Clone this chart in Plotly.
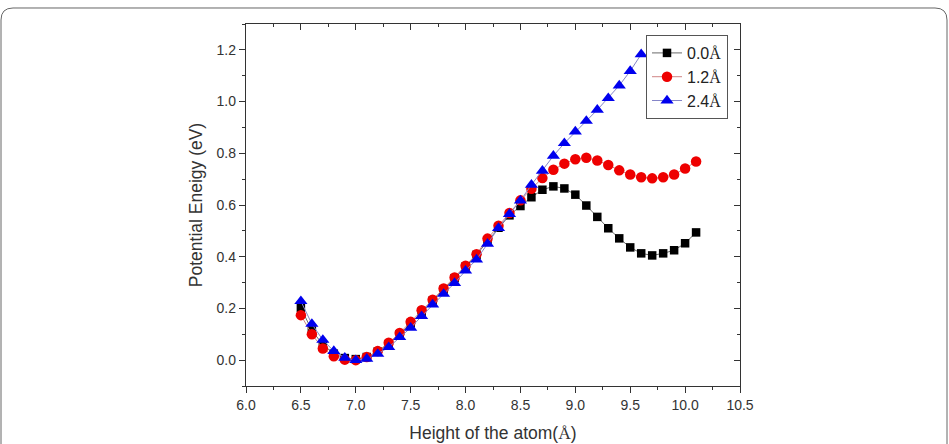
import plotly.graph_objects as go

# ---------------- data ----------------
x_all = [6.5, 6.6, 6.7, 6.8, 6.9, 7.0, 7.1, 7.2, 7.3, 7.4, 7.5, 7.6, 7.7, 7.8, 7.9,
         8.0, 8.1, 8.2, 8.3, 8.4, 8.5, 8.6, 8.7, 8.8, 8.9, 9.0, 9.1, 9.2, 9.3, 9.4,
         9.5, 9.6, 9.7, 9.8, 9.9, 10.0, 10.1]

e_00 = [0.202, 0.115, 0.060, 0.025, 0.008, 0.004, 0.012, 0.033, 0.062, 0.100,
        0.142, 0.187, 0.230, 0.273, 0.317, 0.362, 0.407, 0.460, 0.512, 0.560,
        0.596, 0.630, 0.659, 0.672, 0.664, 0.640, 0.598, 0.554, 0.510, 0.471,
        0.436, 0.413, 0.405, 0.413, 0.425, 0.452, 0.494]

e_12 = [0.174, 0.100, 0.045, 0.015, 0.002, 0.000, 0.012, 0.035, 0.067, 0.105,
        0.148, 0.193, 0.234, 0.277, 0.320, 0.365, 0.410, 0.470, 0.520, 0.569,
        0.618, 0.663, 0.704, 0.736, 0.760, 0.777, 0.783, 0.772, 0.755, 0.734,
        0.718, 0.707, 0.703, 0.707, 0.718, 0.741, 0.768]

x_24 = x_all[:32]
e_24 = [0.228, 0.140, 0.078, 0.035, 0.009, 0.000, 0.005, 0.024, 0.050, 0.089,
        0.125, 0.170, 0.215, 0.256, 0.298, 0.346, 0.389, 0.450, 0.511, 0.565,
        0.617, 0.678, 0.732, 0.790, 0.839, 0.884, 0.925, 0.968, 1.013, 1.062,
        1.118, 1.183]

names = ["0.0", "1.2", "2.4"]
x_range = [6.0, 10.5]
y_range = [-0.1, 1.3]

ANG = '<span style="font-family:\'Liberation Serif\', serif">Å</span>'
FONT = "Liberation Sans, Arial, sans-serif"

fig = go.Figure()
fig.add_trace(go.Scatter(x=x_all, y=e_00, mode="lines+markers", name=names[0] + ANG,
                         line=dict(color="#6a6a6a", width=1),
                         marker=dict(symbol="square", size=8.5, color="black")))
fig.add_trace(go.Scatter(x=x_all, y=e_12, mode="lines+markers", name=names[1] + ANG,
                         line=dict(color="#d08585", width=1),
                         marker=dict(symbol="circle", size=10.5, color="#ee0000")))
fig.add_trace(go.Scatter(x=x_24, y=e_24, mode="lines+markers", name=names[2] + ANG,
                         line=dict(color="#8585c8", width=1),
                         marker=dict(symbol="triangle-up", size=11.5, color="#0000ee")))
# dummy trace to make the mirrored (top/right) axes exist
fig.add_trace(go.Scatter(x=[None], y=[None], xaxis="x2", yaxis="y2",
                         showlegend=False, hoverinfo="skip"))

W, H = 949, 444
L, R, T, B = 246, 740, 24, 385.7

def px(xp):
    return (xp - L) / (R - L)

def py(yp):
    return (B - yp) / (B - T)

# rounded frame of the figure image
r = 12
frame = (f"M {px(1)} {py(444)} L {px(1)} {py(8 + r)} "
         f"Q {px(1)} {py(8)} {px(1 + r)} {py(8)} "
         f"L {px(W - 2 - r)} {py(8)} "
         f"Q {px(W - 2)} {py(8)} {px(W - 2)} {py(8 + r)} "
         f"L {px(W - 2)} {py(444)}")

axis_common = dict(showline=True, linecolor="#333", linewidth=1.3,
                   showgrid=False, zeroline=False, ticklen=6, tickwidth=1.2,
                   tickcolor="#333", automargin=False)

fig.update_layout(
    width=W, height=H,
    margin=dict(l=L, r=W - R, t=T, b=H - B),
    paper_bgcolor="white", plot_bgcolor="white",
    font=dict(family=FONT, color="#333"),
    showlegend=True,
    legend=dict(x=px(646), y=py(35), xanchor="left", yanchor="top",
                bordercolor="#555", borderwidth=1, bgcolor="white",
                font=dict(size=16, color="#222", family=FONT),
                tracegroupgap=0, itemwidth=30),
    xaxis=dict(range=x_range, dtick=0.5, tick0=6.0, tickformat=".1f",
               ticks="outside",
               minor=dict(dtick=0.25, ticks="outside", ticklen=3, tickcolor="#333"),
               tickfont=dict(size=14, color="#333"),
               title=dict(text="Height of the atom(" + ANG + ")",
                          font=dict(size=17.5, color="#333"), standoff=14),
               **axis_common),
    yaxis=dict(range=y_range, dtick=0.2, tick0=0.0, tickformat=".1f",
               ticks="outside",
               minor=dict(dtick=0.1, ticks="outside", ticklen=3, tickcolor="#333"),
               tickfont=dict(size=14, color="#333"),
               title=dict(text="Potential Eneigy (eV)",
                          font=dict(size=17.5, color="#333"), standoff=9),
               **axis_common),
    xaxis2=dict(range=x_range, dtick=0.5, tick0=6.0, overlaying="x", side="top",
                anchor="y2", ticks="inside", showticklabels=False,
                minor=dict(dtick=0.25, ticks="inside", ticklen=3, tickcolor="#333"),
                **axis_common),
    yaxis2=dict(range=y_range, dtick=0.2, tick0=0.0, overlaying="y", side="right",
                anchor="x2", ticks="inside", showticklabels=False,
                minor=dict(dtick=0.1, ticks="inside", ticklen=3, tickcolor="#333"),
                **axis_common),
    shapes=[dict(type="path", xref="paper", yref="paper", path=frame,
                 line=dict(color="#666", width=1), layer="above")],
)

fig.write_html("out.html")
